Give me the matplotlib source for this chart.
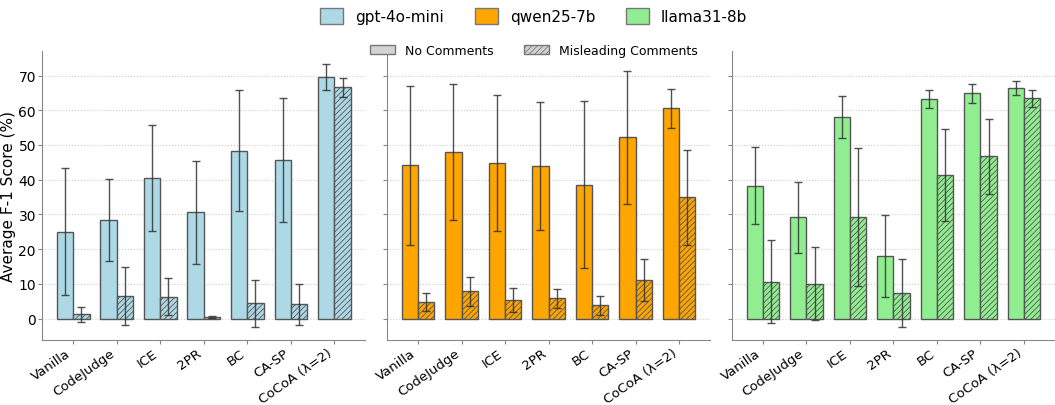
from matplotlib import pyplot as plt
from matplotlib.patches import Patch
import numpy as np


methods = ["Vanilla", "CodeJudge", "ICE", "2PR", "BC", "CA-SP", "CoCoA (λ=2)"]
models = ["gpt-4o-mini", "qwen25-7b", "llama31-8b"]
colors = ["#ADD8E6", "#FFA500", "#90EE90"]

# mean F-1 and std, no comments / misleading comments
gpt_nc = [25.0, 28.4, 40.5, 30.6, 48.4, 45.6, 69.6]
gpt_nc_err = [18.3, 11.9, 15.4, 14.9, 17.4, 17.8, 3.7]
gpt_mc = [1.2, 6.5, 6.3, 0.4, 4.4, 4.1, 66.6]
gpt_mc_err = [2.2, 8.3, 5.3, 0.3, 6.8, 6.0, 2.7]

qwen_nc = [44.2, 48.1, 44.8, 43.9, 38.6, 52.2, 60.6]
qwen_nc_err = [22.9, 19.6, 19.5, 18.4, 24.0, 19.1, 5.6]
qwen_mc = [4.7, 7.9, 5.4, 5.8, 3.8, 11.1, 34.9]
qwen_mc_err = [2.6, 4.2, 3.5, 2.7, 2.8, 6.1, 13.6]

llama_nc = [38.2, 29.2, 58.0, 18.0, 63.3, 64.9, 66.3]
llama_nc_err = [11.1, 10.2, 6.0, 11.9, 2.5, 2.7, 2.0]
llama_mc = [10.6, 10.1, 29.2, 7.5, 41.4, 46.7, 63.4]
llama_mc_err = [12.0, 10.6, 19.8, 9.8, 13.2, 10.7, 2.4]

results = [
    (gpt_nc, gpt_nc_err, gpt_mc, gpt_mc_err),
    (qwen_nc, qwen_nc_err, qwen_mc, qwen_mc_err),
    (llama_nc, llama_nc_err, llama_mc, llama_mc_err),
]


def draw_panel(ax, color, nc, nc_err, mc, mc_err, width=0.375):
    x = np.arange(len(methods))
    err_kw = dict(ecolor="#333333", elinewidth=1, capsize=3, capthick=1, alpha=0.85)
    ax.bar(x - width / 2, nc, width, yerr=nc_err, color=color,
           edgecolor="#555555", linewidth=1, error_kw=err_kw, zorder=2)
    ax.bar(x + width / 2, mc, width, yerr=mc_err, color=color,
           edgecolor="#555555", linewidth=1, hatch="//////", error_kw=err_kw, zorder=2)
    ax.set_xticks(x)
    ax.set_xticklabels(methods, rotation=35, ha="right", fontsize=9.5)
    ax.grid(axis="y", linestyle=":", color="#cccccc", linewidth=0.8, zorder=0)
    ax.spines["top"].set_visible(False)
    ax.spines["right"].set_visible(False)
    ax.spines["left"].set_color("#888888")
    ax.spines["bottom"].set_color("#888888")
    ax.tick_params(colors="#888888", labelcolor="black", labelsize=10, length=3)
    ax.tick_params(axis="x", pad=1.5, labelsize=9.5)
    ax.tick_params(axis="y", pad=1.5)


plt.rcParams["hatch.linewidth"] = 0.6
fig, axes = plt.subplots(1, 3, figsize=(10.55, 4.06), dpi=100, sharey=True)
plt.subplots_adjust(left=0.04, right=1.0, top=0.872, bottom=0.16, wspace=0.067)

for ax, color, res in zip(axes, colors, results):
    draw_panel(ax, color, *res)

axes[0].set_ylabel("Average F-1 Score (%)", fontsize=11, labelpad=2)
axes[0].set_yticks(range(0, 80, 10))

model_handles = [Patch(facecolor=c, edgecolor="#777777", label=m) for m, c in zip(models, colors)]
fig.legend(handles=model_handles, loc="upper center", bbox_to_anchor=(0.506, 1.012), ncol=3,
           frameon=False, fontsize=11, handlelength=1.5, handleheight=1.25, columnspacing=2.0)

style_handles = [
    Patch(facecolor="#d3d3d3", edgecolor="#777777", label="No Comments"),
    Patch(facecolor="#d3d3d3", edgecolor="#777777", hatch="//////", label="Misleading Comments"),
]
fig.legend(handles=style_handles, loc="upper center", bbox_to_anchor=(0.506, 0.918), ncol=2,
           frameon=False, fontsize=9, columnspacing=2.5)

plt.savefig("out.png", dpi=100)
